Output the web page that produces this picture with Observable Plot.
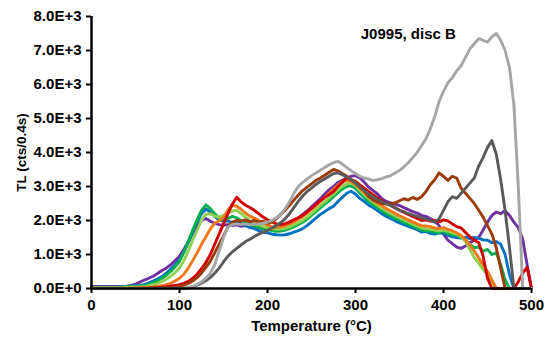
<!DOCTYPE html>
<html><head><meta charset="utf-8">
<script src="https://cdn.jsdelivr.net/npm/d3@7"></script>
<script src="https://cdn.jsdelivr.net/npm/@observablehq/plot@0.6"></script>
<style>body{margin:0;background:#fff} #chart svg{display:block}</style>
</head><body><div id="chart"></div>
<script>
const temps = [0,5,10,15,20,25,30,35,40,45,50,55,60,65,70,75,80,85,90,95,
100,105,110,115,120,125,130,135,140,145,150,155,160,165,170,175,180,185,190,195,
200,205,210,215,220,225,230,235,240,245,250,255,260,265,270,275,280,285,290,295,
300,305,310,315,320,325,330,335,340,345,350,355,360,365,370,375,380,385,390,395,
400,405,410,415,420,425,430,435,440,445,450,455,460,465,470,475,480,485,490,495,500];

const curve1 = [60,60,60,60,60,60,60,60,70,
90,130,190,250,300,360,440,530,600,700,820,
950,1150,1380,1620,1820,2000,2060,1980,1920,1880,1860,
1880,1850,1870,1830,1850,1800,1820,1790,1760,1780,
1750,1780,1820,1850,1920,1990,2080,2180,2280,2400,
2520,2640,2780,2900,3000,3120,3180,3260,3300,3320,
3250,3130,2980,2880,2780,2640,2560,2520,2480,2440,
2380,2320,2260,2220,2150,2120,2060,1980,1850,1600,
1420,1320,1220,1180,1250,1350,1420,1500,1720,1950,
2150,2250,2200,2290,2150,1950,1790,1450,700,0];

const curve2 = [40,40,40,40,40,40,40,50,60,
70,80,90,120,160,220,280,350,450,570,700,
850,1080,1350,1650,1950,2200,2340,2250,2120,2020,1980,
1990,1940,1960,1900,1860,1800,1760,1700,1660,1640,
1600,1580,1570,1580,1610,1660,1700,1760,1850,1960,
2070,2180,2260,2350,2420,2560,2680,2800,2860,2780,
2650,2560,2450,2380,2290,2200,2120,2060,1990,1930,
1880,1830,1780,1730,1660,1680,1620,1600,1640,1620,
1560,1520,1500,1480,1510,1470,1500,1480,1430,1420,
1350,1380,1300,1000,400,0,0,0,0,0];

const curve3 = [30,30,30,30,30,30,30,40,50,
55,60,70,80,120,170,230,300,390,500,640,
800,1060,1380,1720,2020,2300,2460,2350,2200,2080,2020,
2060,2120,2080,2000,1950,1880,1840,1800,1760,1740,
1700,1680,1690,1720,1760,1820,1880,1950,2040,2150,
2260,2370,2480,2580,2700,2820,2920,3000,3020,2940,
2800,2680,2560,2460,2380,2290,2200,2130,2060,2000,
1950,1880,1840,1780,1720,1700,1680,1660,1640,1680,
1620,1580,1560,1500,1420,1300,1200,1220,1100,1150,
1000,1050,700,250,0,0,0,0,0,0];

const curve4 = [20,20,20,20,20,20,20,25,30,
35,40,45,50,80,110,150,200,270,360,470,
600,820,1100,1420,1720,2000,2180,2200,2130,2100,2150,
2220,2280,2300,2200,2100,2000,1940,1880,1830,1790,
1760,1740,1750,1770,1810,1870,1940,2010,2100,2210,
2320,2440,2550,2660,2780,2900,3000,3080,3100,3020,
2880,2760,2640,2540,2450,2360,2280,2210,2140,2080,
2020,1960,1900,1840,1780,1760,1740,1720,1700,1720,
1680,1640,1600,1520,1380,1150,900,750,550,400,
200,0,0,0,0,0,0,0,0,0];

const curve5 = [10,10,10,10,10,10,10,10,10,
15,15,20,20,30,40,60,80,110,150,220,
300,420,600,820,1050,1300,1520,1750,1920,1990,2100,
2300,2450,2420,2330,2220,2130,2070,2000,1920,1870,
1820,1800,1810,1850,1900,1960,2040,2120,2220,2330,
2440,2560,2680,2800,2920,3040,3140,3180,3150,3060,
2940,2820,2700,2600,2510,2430,2350,2280,2210,2140,
2080,2020,1960,1900,1850,1840,1820,1780,1760,1790,
1740,1700,1640,1560,1440,1280,1100,900,700,500,
250,0,0,0,0,0,0,0,0,0];

const curve6 = [0,0,0,0,0,0,0,0,0,
5,5,10,10,15,20,30,40,50,70,90,
110,150,210,300,420,580,760,1000,1300,1600,1900,
2200,2480,2680,2550,2450,2380,2300,2200,2100,2020,
1960,1900,1880,1910,1960,2020,2080,2150,2250,2360,
2470,2580,2680,2760,2850,3000,3120,3260,3200,3150,
3050,2950,2850,2750,2660,2580,2500,2440,2370,2300,
2240,2180,2120,2060,2000,2020,1980,2000,1960,2020,
1990,1900,1820,1780,1650,1520,1420,1350,950,300,
0,0,0,0,0,0,200,450,620,0];

const curve7 = [0,0,0,0,0,0,0,0,0,
0,0,0,0,5,10,15,20,25,30,40,
70,100,150,220,320,450,620,800,1050,1300,1550,
1800,1950,2000,1980,2020,1960,2000,1950,1980,1920,
1950,2050,2180,2300,2450,2600,2750,2880,2980,3080,
3180,3250,3330,3420,3500,3460,3380,3300,3200,3120,
3000,2880,2700,2600,2550,2500,2480,2500,2520,2580,
2640,2600,2680,2620,2700,2850,3050,3200,3400,3300,
3180,3300,3250,2950,2800,2650,2500,2300,2100,1850,
1600,1200,600,0,0,0,0,0,0,0];

const curve8 = [0,0,0,0,0,0,0,0,0,
0,0,0,0,0,0,0,0,0,0,0,
0,5,20,50,100,160,230,320,450,600,780,
950,1080,1180,1280,1380,1450,1530,1600,1660,1710,
1780,1850,1940,2050,2200,2380,2560,2720,2850,2950,
3060,3150,3220,3300,3380,3400,3350,3280,3200,3100,
2980,2880,2780,2700,2620,2550,2500,2440,2380,2300,
2260,2200,2160,2120,2080,2050,2000,1950,2050,2300,
2550,2700,2650,2800,2950,3100,3250,3600,3850,4150,
4350,3950,3200,2300,1200,0,0,0,0,0];

const curve9 = [0,0,0,0,0,0,0,0,0,
0,0,0,0,0,0,0,0,0,0,0,
0,10,30,60,120,200,300,450,700,1100,1500,
1800,1880,1900,1880,1900,1870,1890,1900,1920,1950,
2000,2080,2180,2350,2550,2800,3000,3120,3220,3320,
3400,3480,3560,3640,3700,3740,3660,3560,3460,3380,
3300,3250,3220,3180,3200,3230,3280,3320,3400,3470,
3580,3700,3850,4000,4200,4400,4700,5050,5500,5800,
6050,6200,6400,6550,6800,7050,7200,7350,7300,7250,
7400,7500,7300,7000,6500,5400,3000,0,0,0];

const seriesNames = ["c1","c2","c3","c4","c5","c6","c7","c8","c9"];
const seriesValues = [curve1, curve2, curve3, curve4, curve5, curve6, curve7, curve8, curve9];
const seriesColors = ["#7030A0","#0070C0","#00B050","#92D050","#F07818","#D00000","#9C3A08","#5A5A5A","#A6A6A6"];

const xTicks = [0,100,200,300,400,500];
const xTickLabels = ["0","100","200","300","400","500"];
const yTicks = [0,1000,2000,3000,4000,5000,6000,7000,8000];
const yTickLabels = ["0.0E+0","1.0E+3","2.0E+3","3.0E+3","4.0E+3","5.0E+3","6.0E+3","7.0E+3","8.0E+3"];
const xLabel = "Temperature (°C)";
const yLabel = "TL (cts/0.4s)";
const annotationText = ["J0995, disc B"];

const rows = [];
seriesNames.forEach((name, s) => {
  const vals = seriesValues[s];
  if (vals.length !== temps.length) throw new Error(name + " has " + vals.length + " values");
  vals.forEach((v, i) => rows.push({series: name, T: temps[i], v}));
});

const chart = Plot.plot({
  width: 545, height: 343,
  marginLeft: 91, marginRight: 14, marginTop: 16, marginBottom: 55,
  style: {fontFamily: "'Liberation Sans', Arial, Helvetica, sans-serif", fontSize: "15px", fontWeight: "bold", color: "#000", background: "#fff", overflow: "visible"},
  x: {domain: [0, 500]},
  y: {domain: [0, 8000]},
  color: {type: "ordinal", domain: seriesNames, range: seriesColors},
  marks: [
    Plot.lineY(rows, {x: "T", y: "v", z: "series", stroke: "series", strokeWidth: 2.9, strokeLinejoin: "round", strokeLinecap: "round"}),
    Plot.ruleY([0], {stroke: "#000", strokeWidth: 2.5}),
    Plot.ruleX([0], {stroke: "#000", strokeWidth: 2.5}),
    Plot.axisX({ticks: xTicks, tickFormat: d => xTickLabels[xTicks.indexOf(d)], tickSize: 5, tickPadding: 6, strokeWidth: 2, stroke: "#000", fill: "#000",
      label: xLabel, labelAnchor: "center", labelArrow: "none", labelOffset: 42}),
    Plot.axisY({ticks: yTicks, tickFormat: d => yTickLabels[yTicks.indexOf(d)], tickSize: 5, tickPadding: 5, strokeWidth: 2, stroke: "#000", fill: "#000", label: null}),
    Plot.axisY({ticks: [], label: yLabel, labelAnchor: "center", labelArrow: "none", labelOffset: 75, fontSize: 13.5, fill: "#000"}),
    Plot.text(annotationText, {x: 360, y: 7470, text: d => d, fontSize: 15, fontWeight: "bold", fill: "#000", textAnchor: "middle"})
  ]
});
document.getElementById("chart").appendChild(chart);
</script>
</body></html>
